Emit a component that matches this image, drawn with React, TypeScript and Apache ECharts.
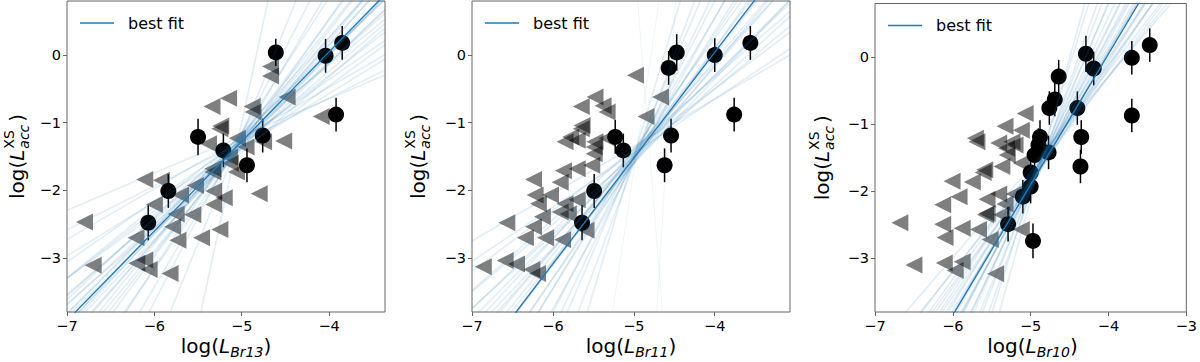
import { useEffect, useRef } from 'react';
import * as echarts from 'echarts';

const FONT = "'DejaVu Sans', sans-serif";
const BLUE = '#1f77b4';
const FRAME = '#666';

// tick labels
const yTicks = [-3, -2, -1, 0];
const xTicks13 = [-7, -6, -5, -4];
const xTicks11 = [-7, -6, -5, -4];
const xTicks10 = [-7, -6, -5, -4, -3];

// ---------- Panel 1: Br13 ----------
const det13 = [
  [-4.61, 0.04], [-4.04, -0.01], [-3.85, 0.18], [-3.92, -0.88], [-5.5, -1.21],
  [-5.21, -1.41], [-4.76, -1.19], [-4.94, -1.63], [-5.84, -2.01], [-6.07, -2.48],
];
const err13 = [0.2, 0.25, 0.25, 0.25, 0.27, 0.25, 0.25, 0.25, 0.25, 0.26];
const lim13 = [
  [-4.67, -0.17], [-4.67, -0.31], [-4.48, -0.62], [-5.15, -0.64], [-5.34, -0.76],
  [-4.88, -0.76], [-4.87, -0.84], [-4.09, -0.91], [-5.24, -1.05], [-5.25, -1.09],
  [-5.38, -1.31], [-5.05, -1.23], [-4.95, -1.36], [-4.75, -1.28], [-4.52, -1.27],
  [-5.14, -1.51], [-5.33, -1.68], [-5.33, -1.73], [-5.13, -1.6], [-5.06, -1.73],
  [-6.11, -1.84], [-5.92, -1.85], [-5.53, -1.93], [-5.7, -2.07], [-5.32, -2.01],
  [-5.2, -2.11], [-4.8, -2.05], [-6.0, -2.21], [-5.32, -2.21], [-5.75, -2.35],
  [-5.56, -2.36], [-6.8, -2.47], [-5.79, -2.54], [-5.25, -2.58], [-6.21, -2.7],
  [-5.73, -2.74], [-5.46, -2.7], [-6.7, -3.11], [-6.2, -3.08], [-6.11, -3.03],
  [-6.06, -3.17], [-5.82, -3.23],
];
const fit13 = [1.325, 5.347]; // slope, intercept
const fanPivot13 = -5.1;
const fan13 = [
  [0.55, -1.25], [0.65, -1.35], [0.75, -1.3], [0.8, -1.45], [0.9, -1.35], [0.95, -1.5],
  [1.0, -1.4], [1.05, -1.3], [1.1, -1.45], [1.12, -1.55], [1.15, -1.38], [1.2, -1.42],
  [1.22, -1.3], [1.25, -1.5], [1.28, -1.4], [1.3, -1.35], [1.33, -1.45], [1.36, -1.5],
  [1.4, -1.38], [1.42, -1.3], [1.45, -1.45], [1.5, -1.4], [1.55, -1.5], [1.6, -1.35],
  [1.65, -1.45], [1.75, -1.4], [1.85, -1.5], [2.0, -1.35], [2.2, -1.45], [2.5, -1.4],
  [3.2, -1.5], [6.0, -1.6],
];

// ---------- Panel 2: Br11 ----------
const det11 = [
  [-4.47, 0.04], [-4.57, -0.19], [-4.0, 0.0], [-3.56, 0.18], [-3.76, -0.88],
  [-5.23, -1.21], [-5.13, -1.41], [-4.54, -1.19], [-4.62, -1.63], [-5.49, -2.01],
  [-5.64, -2.48],
];
const err11 = [0.27, 0.25, 0.25, 0.25, 0.25, 0.25, 0.25, 0.25, 0.25, 0.25, 0.26];
const lim11 = [
  [-4.98, -0.3], [-4.67, -0.62], [-4.85, -0.91], [-5.48, -0.62], [-5.65, -0.76],
  [-5.38, -0.75], [-5.33, -0.84], [-5.64, -1.04], [-5.65, -1.09], [-5.78, -1.21],
  [-5.85, -1.28], [-5.7, -1.26], [-5.48, -1.28], [-5.49, -1.36], [-5.49, -1.46],
  [-5.33, -1.23], [-5.52, -1.63], [-5.7, -1.68], [-5.87, -1.71], [-5.91, -1.88],
  [-6.24, -1.84], [-6.22, -2.07], [-6.03, -2.07], [-6.18, -2.2], [-5.7, -2.14],
  [-5.85, -2.2], [-5.91, -2.32], [-5.81, -2.35], [-6.13, -2.39], [-6.57, -2.48],
  [-6.24, -2.54], [-6.34, -2.7], [-6.09, -2.7], [-5.88, -2.73], [-5.59, -2.59],
  [-6.86, -3.13], [-6.59, -3.04], [-6.45, -3.09], [-6.26, -3.17], [-6.19, -3.23],
];
const fit11 = [1.564, 6.297];
const fanPivot11 = -5.0;
const fan11 = [
  [0.7, -1.35], [0.8, -1.45], [0.9, -1.4], [1.0, -1.5], [1.05, -1.38], [1.1, -1.55],
  [1.15, -1.45], [1.2, -1.5], [1.25, -1.6], [1.3, -1.42], [1.35, -1.52], [1.4, -1.48],
  [1.45, -1.6], [1.5, -1.45], [1.55, -1.55], [1.6, -1.5], [1.65, -1.4], [1.7, -1.6],
  [1.8, -1.5], [1.9, -1.55], [2.0, -1.45], [2.15, -1.6], [2.3, -1.5], [2.5, -1.55],
  [2.8, -1.5], [3.2, -1.6], [4.0, -1.5], [8.0, -1.7], [20.0, -9.5], [-15.0, 1.5],
];

// ---------- Panel 3: Br10 ----------
const det10 = [
  [-4.29, 0.05], [-4.19, -0.17], [-3.7, -0.01], [-3.47, 0.18], [-3.7, -0.87],
  [-4.64, -0.29], [-4.69, -0.63], [-4.76, -0.76], [-4.4, -0.76], [-4.35, -1.19],
  [-4.36, -1.63], [-4.88, -1.19], [-4.9, -1.31], [-4.77, -1.42], [-4.95, -1.46],
  [-5.0, -1.72], [-5.0, -1.93], [-5.1, -2.08], [-5.29, -2.49], [-4.97, -2.74],
];
const err10 = [
  0.27, 0.25, 0.25, 0.25, 0.25, 0.25, 0.25, 0.25, 0.25, 0.25,
  0.25, 0.25, 0.25, 0.25, 0.25, 0.25, 0.25, 0.25, 0.26, 0.26,
];
const lim10 = [
  [-5.07, -0.84], [-5.33, -1.03], [-5.12, -1.09], [-5.71, -1.21], [-5.69, -1.26],
  [-5.41, -1.28], [-5.24, -1.26], [-5.2, -1.31], [-5.31, -1.36], [-5.3, -1.46],
  [-5.12, -1.58], [-5.59, -1.68], [-5.61, -1.72], [-5.37, -1.63], [-6.01, -1.85],
  [-5.75, -1.86], [-5.92, -2.08], [-6.13, -2.2], [-5.56, -2.12], [-5.41, -2.04],
  [-5.21, -2.04], [-5.33, -2.19], [-5.56, -2.33], [-5.58, -2.35], [-5.37, -2.35],
  [-6.68, -2.47], [-6.13, -2.49], [-5.88, -2.55], [-5.67, -2.57], [-6.1, -2.69],
  [-5.52, -2.72], [-5.12, -2.57], [-6.5, -3.1], [-6.11, -3.07], [-5.88, -3.05],
  [-5.97, -3.18], [-5.45, -3.23],
];
const fit10 = [1.948, 7.841];
const fanPivot10 = -4.9;
const fan10 = [
  [1.35, -1.5], [1.45, -1.6], [1.5, -1.55], [1.55, -1.68], [1.6, -1.55], [1.65, -1.62],
  [1.7, -1.7], [1.75, -1.58], [1.8, -1.66], [1.85, -1.74], [1.9, -1.6], [1.95, -1.68],
  [2.0, -1.64], [2.05, -1.75], [2.1, -1.6], [2.15, -1.7], [2.2, -1.66], [2.3, -1.6],
  [2.4, -1.72], [2.5, -1.65], [2.65, -1.6], [2.8, -1.7], [3.0, -1.65], [3.3, -1.7],
  [3.7, -1.6], [4.2, -1.7],
];

const Y_MIN = -3.8;
const Y_MAX = 0.8;

type Piece = { t?: string; s?: number; i?: boolean; dy?: number; gap?: number; stack?: Piece[] };

let measureCtx: CanvasRenderingContext2D | null = null;
function measure(t: string, size: number, italic?: boolean) {
  if (!measureCtx) measureCtx = document.createElement('canvas').getContext('2d');
  if (!measureCtx) return t.length * size * 0.6;
  measureCtx.font = `${italic ? 'italic ' : ''}${size}px 'DejaVu Sans'`;
  return measureCtx.measureText(t).width;
}

function textEl(p: Piece, x: number) {
  return {
    type: 'text',
    x,
    y: p.dy || 0,
    silent: true,
    style: {
      text: p.t,
      fill: '#000',
      fontSize: p.s,
      fontFamily: FONT,
      fontStyle: p.i ? 'italic' : 'normal',
      textAlign: 'left',
      textVerticalAlign: 'middle',
    },
  };
}

function mathLabel(pieces: Piece[], cx: number, cy: number, rotation: number) {
  const widths = pieces.map((p) =>
    p.stack
      ? Math.max(...p.stack.map((q) => measure(q.t || '', q.s || 14, q.i)))
      : measure(p.t || '', p.s || 20, p.i),
  );
  const total = widths.reduce((a, b, k) => a + b + (pieces[k].gap || 0), 0);
  let x = -total / 2;
  const children: any[] = [];
  pieces.forEach((p, k) => {
    x += p.gap || 0;
    if (p.stack) p.stack.forEach((q) => children.push(textEl(q, x)));
    else children.push(textEl(p, x));
    x += widths[k];
  });
  return { type: 'group', x: cx, y: cy, rotation, children };
}

const grids = [
  { left: 67, top: 1, width: 318, height: 311, xMin: -7, xMax: -3.36, xTicks: xTicks13, sub: 'Br13', det: det13, err: err13, lim: lim13, fit: fit13, fan: fan13, pivot: fanPivot13, yLabelX: 17 },
  { left: 472, top: 1, width: 318, height: 311, xMin: -7, xMax: -3.07, xTicks: xTicks11, sub: 'Br11', det: det11, err: err11, lim: lim11, fit: fit11, fan: fan11, pivot: fanPivot11, yLabelX: 418 },
  { left: 875, top: 3.5, width: 315, height: 308.5, xMin: -7, xMax: -3, xTicks: xTicks10, sub: 'Br10', det: det10, err: err10, lim: lim10, fit: fit10, fan: fan10, pivot: fanPivot10, yLabelX: 822 },
];

const minus = (v: number) => String(v).replace('-', '\u2212');

export default function App() {
  const ref = useRef<HTMLDivElement>(null);
  useEffect(() => {
    document.body.style.margin = '0';
    if (!ref.current) return;
    const chart = echarts.init(ref.current, undefined, { renderer: 'svg' });

    const series: any[] = [];
    const graphic: any[] = [];
    grids.forEach((g, k) => {
      // upper limits
      series.push({
        type: 'scatter', xAxisIndex: k, yAxisIndex: k, data: g.lim, symbol: 'triangle',
        symbolRotate: 90, symbolSize: 17, silent: true, z: 2,
        itemStyle: { color: '#000', opacity: 0.5 },
      });
      // error bars
      series.push({
        type: 'custom', xAxisIndex: k, yAxisIndex: k, silent: true, z: 3,
        data: g.det.map((d, i) => [d[0], d[1], g.err[i]]),
        encode: { x: 0, y: 1 },
        renderItem: (_p: any, api: any) => {
          const x = api.value(0), y = api.value(1), e = api.value(2);
          const a = api.coord([x, y - e]);
          const b = api.coord([x, y + e]);
          return { type: 'line', shape: { x1: a[0], y1: a[1], x2: b[0], y2: b[1] }, style: { stroke: '#000', lineWidth: 1.5 } };
        },
      });
      // detections
      series.push({
        type: 'scatter', xAxisIndex: k, yAxisIndex: k, data: g.det, symbol: 'circle',
        symbolSize: 16, silent: true, z: 4, itemStyle: { color: '#000', opacity: 1 },
      });
      // posterior fan
      g.fan.forEach(([s, yp]) => {
        const steep = Math.abs(s) > 6;
        series.push({
          type: 'line', xAxisIndex: k, yAxisIndex: k, symbol: 'none', silent: true, z: 5, clip: true,
          data: [[g.xMin, yp + s * (g.xMin - g.pivot)], [g.xMax, yp + s * (g.xMax - g.pivot)]],
          lineStyle: { color: BLUE, width: steep ? 1 : 1.6, opacity: steep ? 0.07 : 0.13 },
        });
      });
      // best fit
      series.push({
        type: 'line', name: 'best fit', xAxisIndex: k, yAxisIndex: k, symbol: 'none', silent: true, z: 6, clip: true,
        data: [[g.xMin, g.fit[0] * g.xMin + g.fit[1]], [g.xMax, g.fit[0] * g.xMax + g.fit[1]]],
        lineStyle: { color: BLUE, width: 1.3 },
      });

      // legend
      const ly = g.top + 22;
      graphic.push({ type: 'line', shape: { x1: g.left + 13, y1: ly, x2: g.left + 47, y2: ly }, style: { stroke: BLUE, lineWidth: 1.5 }, silent: true });
      graphic.push({ type: 'text', x: g.left + 61, y: ly, silent: true, style: { text: 'best fit', fontSize: 16, fontFamily: FONT, fill: '#000', textAlign: 'left', textVerticalAlign: 'middle' } });

      // x label
      graphic.push(mathLabel([
        { t: 'log(', s: 20 }, { t: 'L', s: 20, i: true }, { t: g.sub, s: 14, i: true, dy: 6 }, { t: ')', s: 20 },
      ], g.left + g.width / 2, 346, 0));
      // y label
      graphic.push(mathLabel([
        { t: 'log(', s: 20 }, { t: 'L', s: 20, i: true },
        { stack: [{ t: 'XS', s: 14, dy: -8 }, { t: 'acc', s: 14, i: true, dy: 7 }], gap: 1 },
        { t: ')', s: 20, gap: 3 },
      ], g.yLabelX, g.top + g.height / 2, Math.PI / 2));
    });

    chart.setOption({
      animation: false,
      grid: grids.map((g) => ({ left: g.left, top: g.top, width: g.width, height: g.height, show: true, borderColor: FRAME, borderWidth: 1, backgroundColor: 'transparent' })),
      xAxis: grids.map((g, k) => ({
        type: 'value', gridIndex: k, min: g.xMin, max: g.xMax, splitLine: { show: false },
        axisLine: { show: false, onZero: false },
        axisTick: { show: true, length: 4, lineStyle: { color: FRAME }, customValues: g.xTicks },
        axisLabel: { customValues: g.xTicks, formatter: minus, fontSize: 14.5, fontFamily: FONT, color: '#000', margin: 6 },
      })),
      yAxis: grids.map((g, k) => ({
        type: 'value', gridIndex: k, min: Y_MIN, max: Y_MAX, splitLine: { show: false },
        axisLine: { show: false, onZero: false },
        axisTick: { show: true, length: 4, lineStyle: { color: FRAME }, customValues: yTicks },
        axisLabel: { customValues: yTicks, formatter: minus, fontSize: 14.5, fontFamily: FONT, color: '#000', margin: 6 },
      })),
      series,
      graphic,
    });
    return () => chart.dispose();
  }, []);
  return <div ref={ref} style={{ width: 1200, height: 362 }} />;
}
